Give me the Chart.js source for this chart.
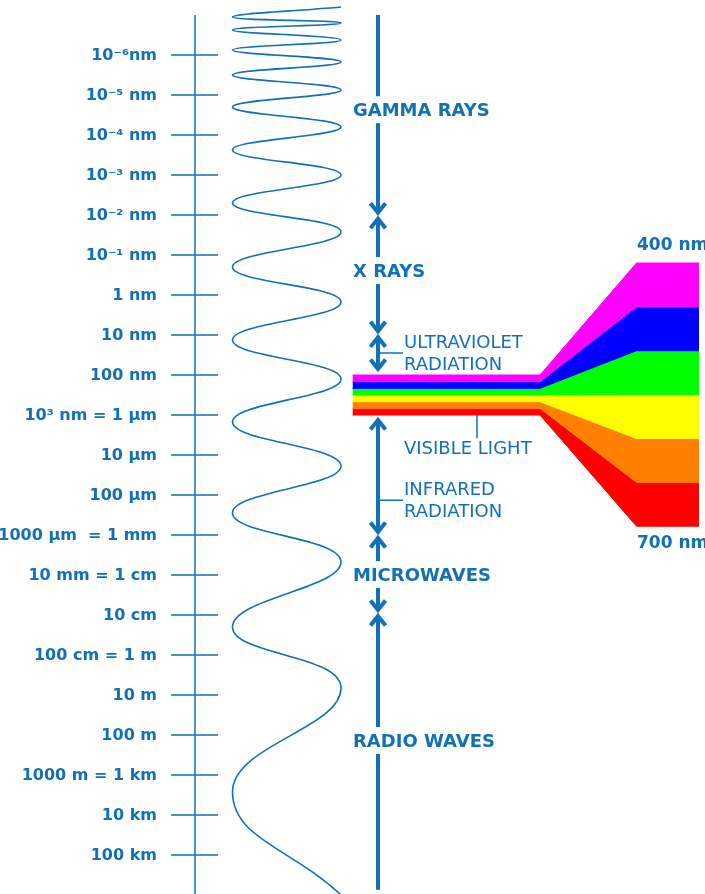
<!DOCTYPE html>
<html>
<head>
<meta charset="utf-8">
<title>Electromagnetic spectrum</title>
<script src="https://cdn.jsdelivr.net/npm/chart.js@4.4.1/dist/chart.umd.min.js"></script>
<style>
  html, body { margin: 0; padding: 0; background: #fff; }
  #wrap { width: 705px; height: 894px; }
</style>
</head>
<body>
<div id="wrap"><canvas id="spectrum" width="705" height="894"></canvas></div>
<script>
// wavelength scale: exponent of the wavelength in nm (0 = 1 nm)
const tickExponents = [-6, -5, -4, -3, -2, -1, 0, 1, 2, 3, 4, 5, 6, 7, 8, 9, 10, 11, 12, 13, 14];
const tickLabels = ['10⁻⁶nm', '10⁻⁵ nm', '10⁻⁴ nm', '10⁻³ nm', '10⁻² nm', '10⁻¹ nm', '1 nm', '10 nm', '100 nm',
    '10³ nm = 1 µm', '10 µm', '100 µm', '1000 µm  = 1 mm', '10 mm = 1 cm', '10 cm', '100 cm = 1 m',
    '10 m', '100 m', '1000 m = 1 km', '10 km', '100 km'];

// spectral regions (edges in the same exponent units)
const bandNames = [['GAMMA RAYS'], ['X RAYS'], ['ULTRAVIOLET', 'RADIATION'], ['VISIBLE LIGHT'],
    ['INFRARED', 'RADIATION'], ['MICROWAVES'], ['RADIO WAVES']];
const bandEdges = [-7.0, -1.98, 0.98, 2.0, 3.0, 6.0, 7.95, 14.87];
const bandLabelAt = [-4.62, -0.6, 1.45, 3.83, 5.13, 7.0, 11.15];

// turning points of the wave, alternating right / left
const waveTurns = [-7.2, -6.95, -6.8, -6.625, -6.375, -6.125, -5.825, -5.5, -5.125, -4.7, -4.2, -3.625,
    -3.0, -2.3, -1.575, -0.7, 0.175, 1.125, 2.1, 3.175, 4.275, 5.45, 6.675, 8.3, 9.825, 12.425, 15.0];

// visible light split into colours (nm)
const visibleEdgesNm = [400, 450, 500, 550, 600, 650, 700];
const visibleColors = ['#ff00ff', '#0000ff', '#00ff00', '#ffff00', '#ff8000', '#ff0000'];
const visibleEndLabels = ['400 nm', '700 nm'];

const BLUE = '#1170b8';
const FONT = '"DejaVu Sans", sans-serif';

// layout (x in canvas units, y in exponent units)
const AXIS_X = 195, COLUMN_X = 378;
const WAVE_LEFT = 232.5, WAVE_RIGHT = 341;
const SPEC_X = [352.5, 540, 636.5, 699];
const FAN_TOP = -0.8, FAN_BOTTOM = 5.78;

function spectrumDatasets() {
    return visibleEdgesNm.map((nm, k) => {
        const t = (nm - visibleEdgesNm[0]) / (visibleEdgesNm[6] - visibleEdgesNm[0]);
        const narrow = bandEdges[3] + t * (bandEdges[4] - bandEdges[3]);
        const wide = FAN_TOP + t * (FAN_BOTTOM - FAN_TOP);
        // stroke each edge with the colour above it so no seams show between bands
        const edgeColor = visibleColors[Math.max(0, k - 1)];
        return {
            data: [
                { x: SPEC_X[0], y: narrow }, { x: SPEC_X[1], y: narrow },
                { x: SPEC_X[2], y: wide }, { x: SPEC_X[3], y: wide }
            ],
            showLine: true,
            borderWidth: 1,
            borderColor: edgeColor,
            pointRadius: 0,
            tension: 0,
            fill: k === 0 ? false : '-1',
            backgroundColor: k === 0 ? 'transparent' : visibleColors[k - 1]
        };
    });
}

const waveDataset = {
    data: waveTurns.map((v, i) => ({ x: i % 2 === 0 ? WAVE_RIGHT : WAVE_LEFT, y: v })),
    showLine: true,
    borderColor: BLUE,
    borderWidth: 1.6,
    pointRadius: 0,
    tension: 0.45,
    fill: false
};

const diagram = {
    id: 'diagram',
    afterDatasetsDraw(chart) {
        const ctx = chart.ctx;
        const px = v => chart.scales.x.getPixelForValue(v);
        const py = v => chart.scales.y.getPixelForValue(v);
        ctx.save();
        ctx.strokeStyle = BLUE;
        ctx.fillStyle = BLUE;

        // left wavelength axis
        ctx.lineWidth = 1.5;
        ctx.beginPath();
        ctx.moveTo(px(AXIS_X), py(bandEdges[0]));
        ctx.lineTo(px(AXIS_X), chart.chartArea.bottom);
        tickExponents.forEach(e => {
            ctx.moveTo(px(171), py(e));
            ctx.lineTo(px(218), py(e));
        });
        ctx.stroke();
        ctx.font = 'bold 16px ' + FONT;
        ctx.textAlign = 'right';
        ctx.textBaseline = 'middle';
        tickLabels.forEach((t, i) => ctx.fillText(t, px(157), py(tickExponents[i]) + 1));

        // region column with arrows
        const cx = px(COLUMN_X);
        const head = (tip, dir) => {
            ctx.save();
            ctx.lineWidth = 4;
            ctx.lineJoin = 'miter';
            ctx.lineCap = 'butt';
            ctx.beginPath();
            ctx.moveTo(cx - 7.5, tip - dir * 12.5);
            ctx.lineTo(cx, tip - dir * 3);
            ctx.lineTo(cx + 7.5, tip - dir * 12.5);
            ctx.stroke();
            ctx.restore();
        };
        const shaft = (a, b) => { if (b > a) ctx.fillRect(cx - 2, a, 4, b - a); };

        bandNames.forEach((lines, i) => {
            if (i === 3) return;
            const bold = [0, 1, 5, 6].includes(i);
            let top = py(bandEdges[i]);
            let bottom = py(bandEdges[i + 1]);
            if (i === 4) top += 2;
            if (i === 2) bottom -= 3;
            const hasTop = i > 0, hasBottom = i < 6;
            const a = hasTop ? top + 5 : top;
            const b = hasBottom ? bottom - 5 : bottom;
            const ly = py(bandLabelAt[i]);
            if (bold) {
                shaft(a, ly - 14);
                shaft(ly + 13, b);
            } else {
                shaft(a, b);
            }
            if (hasTop) head(top, -1);
            if (hasBottom) head(bottom, 1);
        });

        // labels
        ctx.textAlign = 'left';
        ctx.textBaseline = 'middle';
        ctx.lineWidth = 1.5;
        bandNames.forEach((lines, i) => {
            const ly = py(bandLabelAt[i]);
            if ([0, 1, 5, 6].includes(i)) {
                ctx.font = 'bold 18px ' + FONT;
                ctx.fillText(lines[0], px(353), ly + 1);
                return;
            }
            ctx.font = '18px ' + FONT;
            if (i === 3) {
                ctx.beginPath();
                ctx.moveTo(px(477), py(bandEdges[4]));
                ctx.lineTo(px(477), ly - 10);
                ctx.stroke();
                ctx.fillText(lines[0], px(404), ly + 1);
            } else {
                ctx.beginPath();
                ctx.moveTo(cx, ly);
                ctx.lineTo(px(403), ly);
                ctx.stroke();
                ctx.fillText(lines[0], px(404), ly - 10);
                ctx.fillText(lines[1], px(404), ly + 12);
            }
        });

        // ends of the visible fan
        ctx.font = 'bold 17px ' + FONT;
        ctx.fillText(visibleEndLabels[0], px(637), py(FAN_TOP) - 17);
        ctx.fillText(visibleEndLabels[1], px(637), py(FAN_BOTTOM) + 17);
        ctx.restore();
    }
};

new Chart(document.getElementById('spectrum'), {
    type: 'scatter',
    data: { datasets: [...spectrumDatasets(), waveDataset] },
    options: {
        responsive: false,
        animation: false,
        devicePixelRatio: 1,
        layout: { padding: 0 },
        scales: {
            x: { type: 'linear', min: 0, max: 705, display: false },
            y: { type: 'linear', min: -7.375, max: 14.975, reverse: true, display: false }
        },
        plugins: { legend: { display: false }, tooltip: { enabled: false } }
    },
    plugins: [diagram]
});
</script>
</body>
</html>
